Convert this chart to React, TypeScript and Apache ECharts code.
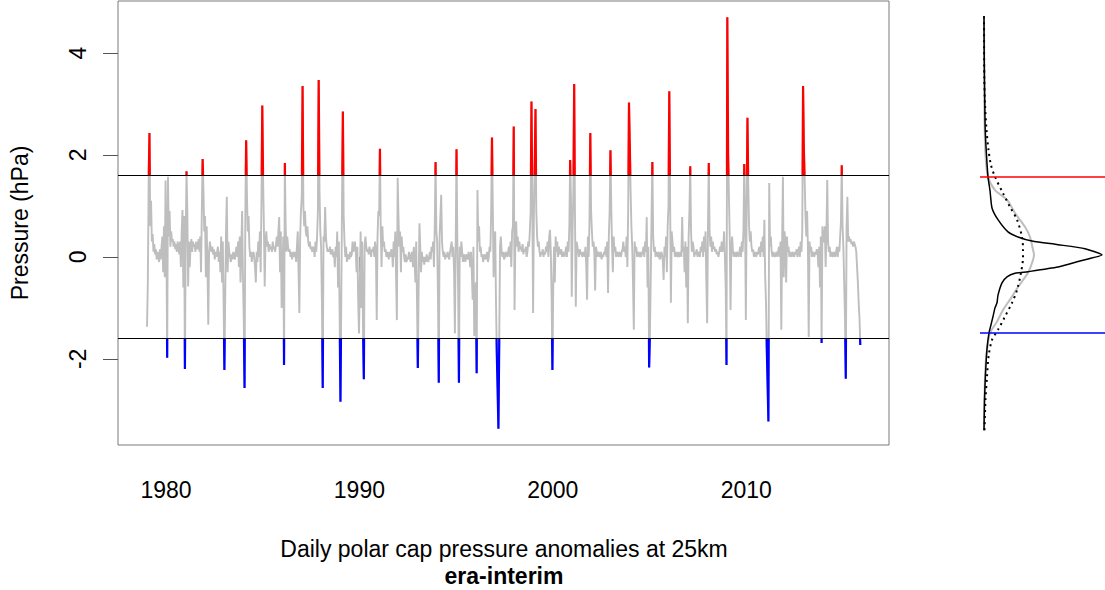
import React, { useEffect, useRef } from "react";
import * as echarts from "echarts";

// Half-monthly polar cap pressure anomalies (hPa).
const START_YEAR = 1979;
const STEPS_PER_YEAR = 24;

const pcap1979to1985 = [
  -1.37, -0.5, 1.45, 2.43, 0.6, 1.1, 0.3, 0.45, 0.1, 0.25, 0.05, 0.15, -0.05, 0.1, 0.0, -0.1, 0.15, -0.05, 0.2, 0.4, -0.3, 0.6, -0.4, 1.5,
  0.3, -1.98, 1.57, 0.4, 0.9, 0.2, 0.5, 0.3, 0.35, 0.2, 0.3, 0.15, 0.25, 0.1, 0.3, 0.2, 0.05, 0.3, -0.2, 0.5, 0.92, -0.6, 0.8, -2.2,
  0.4, 1.68, 0.9, -0.58, 0.3, -0.2, 0.2, 0.35, 0.1, 0.3, 0.2, 0.25, 0.1, 0.3, 0.15, 0.2, 0.35, 0.1, 0.4, -0.3, 0.9, 1.92, 1.3, 0.5,
  0.8, -0.4, 0.6, -0.2, -1.33, 0.1, 0.3, 0.15, 0.1, 0.2, 0.05, 0.15, -0.05, 0.1, 0.0, 0.1, 0.2, -0.1, 0.1, -0.3, 0.4, -0.5, 0.3, -0.9,
  -2.22, -0.8, 0.5, 1.18, -0.3, 0.3, 0.1, 0.0, -0.1, 0.05, -0.05, 0.1, 0.0, -0.05, 0.1, 0.2, 0.0, 0.3, -0.2, 0.4, -0.5, 0.2, 0.9, -0.4,
  -1.2, -2.57, 0.9, 2.29, 1.2, 0.5, 0.8, 0.2, 0.0, 0.1, -0.1, 0.05, 0.1, 0.0, -0.2, -0.5, 0.1, -0.1, 0.3, 0.0, 0.5, -0.3, 1.1, 2.97,
  1.55, 0.6, -0.58, 0.3, 0.5, 0.2, 0.3, 0.1, 0.25, 0.15, 0.2, 0.1, 0.3, 0.15, 0.2, 0.1, 0.25, 0.4, 0.2, 0.5, 0.78, -0.3, 0.5, -1.0,
];
const pcap1986to1992 = [
  -0.6, 0.4, -2.12, 1.84, 0.6, 0.1, 0.4, 0.2, 0.1, 0.15, 0.0, 0.1, -0.05, 0.05, 0.1, 0.0, 0.1, -0.1, 0.2, 0.5, -0.3, -1.1, 0.4, 0.9,
  1.2, 3.35, 1.0, 0.6, 0.9, 0.5, 0.4, 0.6, 0.3, 0.2, 0.3, 0.15, 0.2, 0.1, 0.2, 0.15, 0.0, 0.3, 0.1, 0.4, 0.9, 3.47, 1.3, 0.5,
  0.2, -0.9, -2.57, 0.4, 0.3, 0.98, 0.4, 0.2, 0.1, 0.15, 0.1, 0.2, 0.05, 0.1, 0.15, 0.0, 0.1, -0.2, 0.2, 0.0, 0.5, -0.6, 0.3, -1.2,
  -2.84, -0.9, 1.2, 2.85, 0.8, 0.3, 0.0, 0.2, -0.1, 0.05, 0.0, -0.05, 0.1, 0.0, 0.05, 0.3, 0.1, 0.2, 0.3, 0.1, -0.3, 0.2, -0.84, -1.5,
  -0.6, 0.5, -1.0, 0.3, -1.4, -2.4, 0.2, 0.4, 0.2, 0.1, 0.15, 0.05, 0.2, 0.1, 0.0, 0.15, 0.1, 0.2, 0.0, 0.3, 0.1, -1.24, 0.4, 0.9,
  0.8, 2.12, 0.5, -0.2, 0.6, 0.2, 0.3, 0.1, 0.15, 0.0, 0.1, 0.05, -0.05, 0.1, 0.0, 0.15, 0.1, -0.2, 0.3, 0.0, 0.5, -0.4, -1.24, 1.55,
  0.78, 0.2, 0.5, -0.3, 0.4, 0.1, 0.2, 0.0, -0.1, 0.05, -0.1, 0.0, -0.05, 0.1, 0.0, -0.1, 0.05, 0.1, -0.2, 0.2, -0.1, -0.5, 0.3, -0.9,
];
const pcap1993to1999 = [
  -2.18, -0.6, 0.66, 0.2, -0.3, 0.1, -0.1, 0.0, -0.15, 0.0, -0.1, 0.05, -0.05, -0.1, 0.0, 0.1, -0.05, 0.2, 0.1, 0.3, -0.2, 0.6, 1.86, 0.5,
  0.3, -0.8, -2.47, 0.4, 0.8, 1.22, 0.3, 0.1, 0.0, 0.1, -0.05, 0.05, 0.0, 0.1, 0.0, -0.05, 0.1, 0.2, 0.3, 0.0, 0.2, -0.3, -1.5, 0.3,
  2.11, 0.4, -0.6, -2.47, 0.2, 0.0, 0.3, 0.1, -0.1, 0.05, 0.0, -0.1, 0.05, 0.0, -0.05, 0.1, 0.0, -0.2, 0.1, -0.3, -0.84, 0.2, -1.55, -0.8,
  -0.5, -2.28, 1.31, 0.3, 0.6, 0.1, 0.2, 0.0, 0.05, -0.1, 0.0, 0.05, -0.05, 0.0, 0.1, -0.1, 0.0, 0.2, 0.1, 0.9, 2.34, 1.0, -0.4, 0.3,
  0.5, -0.9, -1.9, -2.6, -3.37, -1.69, 0.2, 0.4, 0.1, 0.0, 0.1, -0.05, 0.0, 0.1, 0.05, 0.0, 0.1, 0.2, 0.0, 0.3, -0.2, 0.5, 0.6, 2.56,
  -1.04, 0.3, 0.7, 0.2, 0.4, 0.1, 0.3, 0.15, 0.2, 0.1, 0.25, 0.05, 0.15, 0.1, 0.2, 0.0, 0.1, 0.3, 0.2, 0.5, 0.9, 3.05, 1.2, -1.1,
  0.8, 1.7, 2.9, 0.9, 0.4, 0.2, 0.3, 0.1, 0.0, 0.1, 0.05, 0.15, 0.0, 0.1, 0.05, 0.2, 0.1, 0.3, 0.0, 0.4, 0.53, 0.1, -0.8, -2.22,
];
const pcap2000to2006 = [
  -0.6, 0.2, -0.5, 0.4, 0.1, 0.3, 0.0, 0.2, 0.1, 0.05, 0.15, 0.0, 0.1, 0.05, 0.0, 0.1, 0.2, 0.0, 0.3, 0.1, 0.6, 1.9, 1.2, -0.78,
  0.5, 1.3, 3.39, 0.8, -0.98, 0.3, 0.2, 0.1, 0.0, 0.15, 0.05, 0.1, 0.0, 0.05, 0.1, 0.0, 0.2, -0.2, -0.84, 0.4, 0.0, 0.7, 2.43, 0.9,
  0.5, 0.2, 0.3, 0.1, -0.66, 0.2, 0.1, 0.0, 0.1, 0.05, 0.0, 0.1, -0.05, 0.05, 0.0, 0.1, 0.05, 0.2, 0.0, 0.3, -0.71, 0.4, 0.9, 2.09,
  1.0, 0.2, -0.3, 0.4, 0.1, 0.2, 0.0, 0.1, 0.05, 0.0, 0.1, 0.05, 0.0, 0.1, 0.15, 0.3, 0.1, 0.2, 0.0, 0.4, -0.2, 0.9, 3.03, 2.2,
  1.3, 0.6, 0.2, -0.5, -1.43, 0.3, 0.1, 0.2, 0.0, 0.1, 0.05, 0.0, 0.1, 0.0, 0.05, 0.1, 0.2, 0.0, 0.3, 0.1, 0.78, -0.6, 0.2, -2.17,
  -1.5, -0.4, 0.8, 1.86, 0.4, 0.1, 0.2, 0.0, 0.1, 0.05, 0.0, 0.1, -0.05, 0.0, 0.1, 0.05, -0.1, -0.45, 0.2, 0.0, 0.4, -0.3, 0.6, 1.0,
  3.25, 1.2, -0.9, 0.5, 0.3, 0.1, 0.2, 0.0, 0.1, 0.05, 0.0, 0.1, 0.0, 0.05, 0.1, 0.0, 0.78, 0.1, 0.2, -0.3, 0.3, -0.6, 0.2, -1.3,
];
const pcap2007to2015 = [
  0.4, 0.9, 1.78, 0.5, 0.1, 0.3, 0.2, 0.0, 0.1, 0.05, 0.15, 0.0, 0.1, 0.05, 0.0, 0.2, 0.1, 0.3, 0.0, 0.4, 0.1, 0.5, -0.5, -1.3,
  0.6, 1.84, 0.5, 0.2, 0.4, 0.1, 0.3, 0.15, 0.2, 0.1, 0.15, 0.05, 0.1, 0.0, 0.1, 0.2, 0.1, 0.3, 0.1, 0.2, 0.5, 0.0, -0.6, -2.12,
  4.7, 2.0, 1.2, 0.4, -1.04, 0.2, 0.4, 0.1, 0.0, 0.1, 0.05, 0.0, 0.1, 0.05, 0.0, 0.1, 0.2, 0.0, 0.3, 0.1, 0.5, 1.82, 0.8, -1.24,
  0.9, 2.73, 1.4, 0.6, 0.3, 0.5, 0.2, 0.1, 0.15, 0.0, 0.1, 0.05, 0.0, 0.1, 0.05, 0.15, 0.2, 0.0, 0.3, 0.1, 0.4, 0.0, 0.73, -0.4,
  -0.9, -1.8, -2.5, -3.23, 1.45, 0.2, 0.4, 0.1, 0.0, 0.1, 0.05, 0.0, 0.05, 0.1, 0.0, 0.1, 0.2, 0.0, 0.3, -1.43, 0.3, 1.57, -0.4, 0.5,
  0.3, -0.5, 0.4, 0.1, 0.2, 0.0, 0.1, 0.05, 0.0, 0.1, 0.05, 0.0, 0.1, 0.05, 0.15, 0.0, 0.1, 0.2, 0.0, 0.3, 0.1, 0.5, 3.35, 2.1,
  1.5, 0.8, 0.4, 0.9, 0.2, -1.57, 0.3, 0.1, 0.2, 0.0, 0.1, 0.05, 0.0, 0.1, 0.05, 0.15, 0.1, -0.2, 0.2, -0.6, 0.4, -1.69, 0.6, 0.3,
  0.3, 0.6, -0.2, 0.5, 1.51, 0.3, 0.1, 0.2, 0.0, 0.1, 0.05, 0.0, 0.1, 0.05, 0.0, 0.1, 0.2, 0.0, 0.2, 0.1, 0.4, 0.7, 1.8, 0.6,
  0.2, -0.5, -1.2, -2.39, 0.6, 1.18, 0.3, 0.4, 0.3, 0.35, 0.25, 0.3, 0.2, 0.3, 0.25, 0.2, 0.1, -0.2, -0.5, -0.9, -1.2, -1.73,
];

const xTickYears = [1980, 1990, 2000, 2010];
const yTickValues = [-2, 0, 2, 4];
const upperThreshold = 1.6;
const lowerThreshold = -1.6;
const upperDensityLine = 1.57;
const lowerDensityLine = -1.49;

// Density curves: [pressure (hPa), density]
const empiricalDensity = [
  [4.72, 0], [4.0, 0.002], [3.0, 0.008], [2.5, 0.012], [2.0, 0.025], [1.57, 0.04], [1.3, 0.06],
  [0.96, 0.08], [0.73, 0.14], [0.49, 0.24], [0.39, 0.34], [0.31, 0.48], [0.24, 0.74], [0.16, 1.01],
  [0.04, 1.18], [-0.08, 0.96], [-0.2, 0.74], [-0.29, 0.44], [-0.32, 0.31], [-0.39, 0.23], [-0.51, 0.18],
  [-0.75, 0.14], [-0.9, 0.13], [-1.0, 0.11], [-1.17, 0.09], [-1.33, 0.07], [-1.49, 0.05],
  [-1.8, 0.03], [-2.3, 0.015], [-2.8, 0.005], [-3.4, 0],
];
const normalFitDensity = [
  [4.72, 0], [3.0, 0.003], [2.5, 0.007], [2.0, 0.015], [1.57, 0.04], [1.31, 0.11], [1.12, 0.23],
  [0.86, 0.31], [0.59, 0.41], [0.39, 0.46], [0.14, 0.49], [0.04, 0.5], [-0.06, 0.49], [-0.31, 0.44],
  [-0.59, 0.34], [-0.78, 0.28], [-1.04, 0.19], [-1.27, 0.13], [-1.49, 0.06], [-1.69, 0.04],
  [-2.0, 0.02], [-2.5, 0.008], [-3.4, 0.001],
];
const referenceDensity = [
  [4.72, 0], [3.5, 0.003], [3.0, 0.01], [2.5, 0.025], [2.1, 0.045], [1.8, 0.07], [1.57, 0.11],
  [1.25, 0.19], [0.98, 0.26], [0.73, 0.33], [0.39, 0.38], [0.14, 0.39], [0.0, 0.39], [-0.31, 0.37],
  [-0.65, 0.33], [-0.9, 0.28], [-1.17, 0.21], [-1.43, 0.14], [-1.63, 0.08], [-1.96, 0.045],
  [-2.35, 0.03], [-2.8, 0.015], [-3.4, 0.005],
];

const FONT = "'Liberation Sans', Arial, Helvetica, sans-serif";
const FS = 23;

export default function App() {
  const ref = useRef<HTMLDivElement>(null);

  useEffect(() => {
    if (!ref.current) return;
    const chart = echarts.init(ref.current, null, { renderer: "svg" });

    const all = [
      ...pcap1979to1985,
      ...pcap1986to1992,
      ...pcap1993to1999,
      ...pcap2000to2006,
      ...pcap2007to2015,
    ];
    const seriesData = all.map((v, i) => [START_YEAR + (i + 0.5) / STEPS_PER_YEAR, v]);
    const toXY = (arr: number[][]) => arr.map(([p, d]) => [d, p]);

    const yMin = -3.69;
    const yMax = 5.02;

    chart.setOption({
      animation: false,
      backgroundColor: "#ffffff",
      textStyle: { fontFamily: FONT },
      grid: [
        { left: 118, top: 1, width: 771, height: 444, show: true, borderColor: "#7a7a7a", borderWidth: 1, backgroundColor: "transparent" },
        { left: 980, top: 1, width: 125, height: 444, show: false },
      ],
      xAxis: [
        {
          type: "value",
          gridIndex: 0,
          min: 1977.52,
          max: 2017.38,
          axisLine: { show: false },
          splitLine: { show: false },
          axisTick: { show: true, customValues: xTickYears, length: 15, lineStyle: { color: "#555" } },
          axisLabel: {
            customValues: xTickYears,
            margin: 33,
            fontSize: FS,
            color: "#000",
            fontFamily: FONT,
            formatter: (v: number) => String(v),
          },
        },
        {
          type: "value",
          gridIndex: 1,
          min: -0.04,
          max: 1.21,
          show: false,
        },
      ],
      yAxis: [
        {
          type: "value",
          gridIndex: 0,
          min: yMin,
          max: yMax,
          axisLine: { show: false },
          splitLine: { show: false },
          axisTick: { show: true, customValues: yTickValues, length: 15, lineStyle: { color: "#555" } },
          axisLabel: {
            customValues: yTickValues,
            rotate: 90,
            margin: 29,
            fontSize: FS,
            color: "#000",
            fontFamily: FONT,
            formatter: (v: number) => String(v),
          },
          name: "Pressure (hPa)",
          nameLocation: "middle",
          nameRotate: 90,
          nameGap: 87,
          nameTextStyle: { fontSize: FS, color: "#000", fontFamily: FONT },
        },
        {
          type: "value",
          gridIndex: 1,
          min: yMin,
          max: yMax,
          show: false,
        },
      ],
      visualMap: [
        {
          type: "piecewise",
          show: false,
          seriesIndex: 1,
          dimension: 1,
          pieces: [
            { lt: lowerThreshold, color: "#0000ff" },
            { gte: lowerThreshold, lte: upperThreshold, color: "rgba(255,255,255,0)" },
            { gt: upperThreshold, color: "#ff0000" },
          ],
        },
      ],
      series: [
        {
          type: "line",
          xAxisIndex: 0,
          yAxisIndex: 0,
          data: seriesData,
          showSymbol: false,
          lineStyle: { color: "#bebebe", width: 1.9 },
          z: 2,
          silent: true,
        },
        {
          type: "line",
          xAxisIndex: 0,
          yAxisIndex: 0,
          data: seriesData,
          showSymbol: false,
          lineStyle: { width: 2.2 },
          z: 3,
          silent: true,
          markLine: {
            silent: true,
            symbol: ["none", "none"],
            label: { show: false },
            lineStyle: { color: "#000", width: 1.2, type: "solid" },
            data: [{ yAxis: upperThreshold }, { yAxis: lowerThreshold }],
          },
        },
        {
          type: "line",
          xAxisIndex: 1,
          yAxisIndex: 1,
          data: toXY(normalFitDensity),
          showSymbol: false,
          smooth: 0.3,
          lineStyle: { color: "#bebebe", width: 2 },
          silent: true,
        },
        {
          type: "line",
          xAxisIndex: 1,
          yAxisIndex: 1,
          data: toXY(referenceDensity),
          showSymbol: false,
          smooth: 0.3,
          lineStyle: { color: "#000", width: 2, type: [2, 4] },
          silent: true,
        },
        {
          type: "line",
          xAxisIndex: 1,
          yAxisIndex: 1,
          data: toXY(empiricalDensity),
          showSymbol: false,
          smooth: 0.2,
          lineStyle: { color: "#000", width: 1.5 },
          silent: true,
          markLine: {
            silent: true,
            symbol: ["none", "none"],
            label: { show: false },
            data: [
              { yAxis: upperDensityLine, lineStyle: { color: "#ff0000", width: 1.5, type: "solid" } },
              { yAxis: lowerDensityLine, lineStyle: { color: "#0000ff", width: 1.5, type: "solid" } },
            ],
          },
        },
      ],
      graphic: [
        {
          type: "text",
          x: 504,
          y: 549,
          style: {
            text: "Daily polar cap pressure anomalies at 25km",
            textAlign: "center",
            textVerticalAlign: "middle",
            font: `${FS}px ${FONT}`,
            fill: "#000",
          },
        },
        {
          type: "text",
          x: 504,
          y: 576,
          style: {
            text: "era-interim",
            textAlign: "center",
            textVerticalAlign: "middle",
            font: `bold ${FS}px ${FONT}`,
            fill: "#000",
          },
        },
      ],
    });

    return () => chart.dispose();
  }, []);

  return (
    <div
      ref={ref}
      style={{ position: "absolute", left: 0, top: 0, width: 1105, height: 590 }}
    />
  );
}
